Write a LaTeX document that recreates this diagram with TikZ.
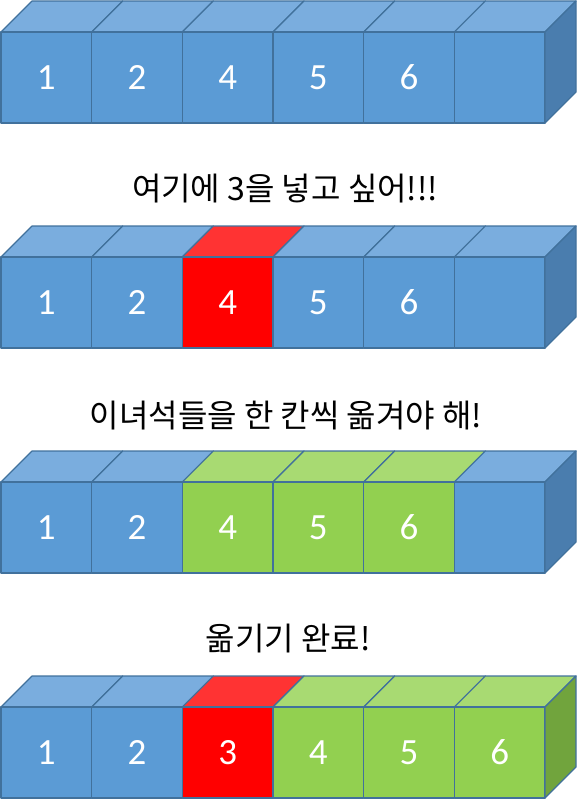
\documentclass[tikz,border=0pt]{standalone}
\usepackage{fontspec}
\newfontfamily\korfont{Noto Sans CJK KR}
\newfontfamily\numfont{Carlito}
\definecolor{bfront}{HTML}{5B9BD5}
\definecolor{btop}{HTML}{7AADDE}
\definecolor{bside}{HTML}{4A7DAE}
\definecolor{gfront}{HTML}{92D050}
\definecolor{gtop}{HTML}{A8DA72}
\definecolor{gside}{HTML}{71A43D}
\definecolor{rfront}{HTML}{FF0000}
\definecolor{rtop}{HTML}{FF3333}
\definecolor{edgecol}{HTML}{41719C}
\begin{document}
\begin{tikzpicture}[x=1pt,y=-1pt,
  face/.style={draw=edgecol, line width=1.2pt, line join=round},
  lbl/.style={text=white, font=\numfont\fontsize{37}{37}\selectfont, inner sep=0pt},
  captext/.style={font=\korfont\fontsize{32}{32}\selectfont, inner sep=0pt}]
\useasboundingbox (0,0) rectangle (577,800);
\def\w{90.67}
\def\d{31}
\def\h{91}
\foreach \r/\ft/\sidecol in {1/32/bside,2/257/bside,3/482/bside,4/707/gside}{
  \ifcase\r\or
    \def\cubelist{0/bfront/btop/1,1/bfront/btop/2,2/bfront/btop/4,3/bfront/btop/5,4/bfront/btop/6,5/bfront/btop/}
  \or
    \def\cubelist{0/bfront/btop/1,1/bfront/btop/2,2/rfront/rtop/4,3/bfront/btop/5,4/bfront/btop/6,5/bfront/btop/}
  \or
    \def\cubelist{0/bfront/btop/1,1/bfront/btop/2,2/gfront/gtop/4,3/gfront/gtop/5,4/gfront/gtop/6,5/bfront/btop/}
  \or
    \def\cubelist{0/bfront/btop/1,1/bfront/btop/2,2/rfront/rtop/3,3/gfront/gtop/4,4/gfront/gtop/5,5/gfront/gtop/6}
  \fi
  \foreach \i/\fc/\tc/\l in \cubelist{
    \pgfmathsetmacro\xa{1+\w*\i}
    \pgfmathsetmacro\xb{\xa+\w}
    \pgfmathsetmacro\yt{\ft-\d}
    \pgfmathsetmacro\yb{\ft+\h}
    \filldraw[face, fill=\tc] (\xa,\ft) -- (\xa+\d,\yt) -- (\xb+\d,\yt) -- (\xb,\ft) -- cycle;
    \filldraw[face, fill=\fc] (\xa,\ft) rectangle (\xb,\yb);
    \node[lbl] (r\r c\i) at ({(\xa+\xb)/2},{\ft+\h/2}) {\l};
  }
  \pgfmathsetmacro\xr{1+6*\w}
  \filldraw[face, fill=\sidecol] (\xr,\ft) -- (\xr+\d,\ft-\d) -- (\xr+\d,\ft+\h-\d) -- (\xr,\ft+\h) -- cycle;
}
\node[captext] (cap1) at (285,189) {여기에 3을 넣고 싶어!!!};
\node[captext] (cap2) at (286,416) {이녀석들을 한 칸씩 옮겨야 해!};
\node[captext] (cap3) at (288,639) {옮기기 완료!};
\end{tikzpicture}
\end{document}
